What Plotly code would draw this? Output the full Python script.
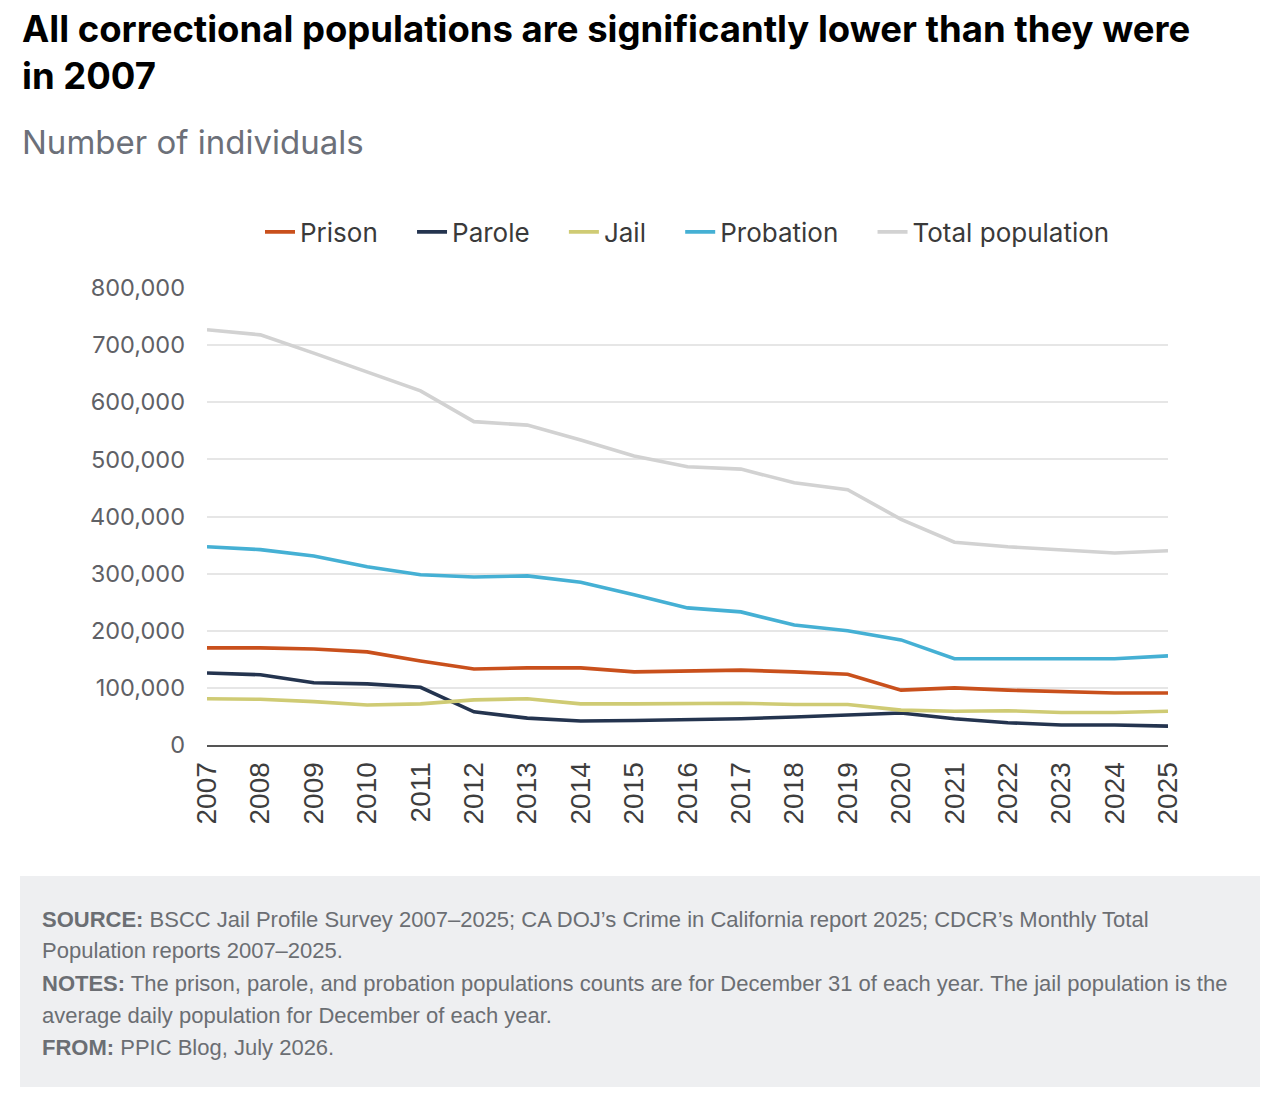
import plotly.graph_objects as go

years = list(range(2007, 2026))
prison = [170000, 170000, 168000, 163000, 147000, 133000, 135000, 135000, 128000, 130000,
          131000, 128000, 124000, 96000, 100000, 96000, 94000, 91000, 91000]
parole = [126000, 123000, 109000, 107000, 101000, 58000, 47000, 42000, 43000, 44000,
          46000, 49000, 53000, 56000, 46000, 39000, 35000, 35000, 33000]
jail = [81000, 80000, 76000, 70000, 72000, 79000, 81000, 72000, 72000, 73000,
        73000, 71000, 71000, 61000, 59000, 60000, 57000, 57000, 59000]
probation = [347000, 342000, 331000, 312000, 298000, 294000, 296000, 285000, 263000, 240000,
             233000, 210000, 200000, 184000, 151000, 151000, 152000, 151000, 156000]
total = [727000, 718000, 686000, 653000, 620000, 566000, 560000, 534000, 506000, 487000,
         483000, 459000, 447000, 395000, 355000, 347000, 341000, 336000, 340000]

series_names = ["Prison", "Parole", "Jail", "Probation", "Total population"]
series_values = [prison, parole, jail, probation, total]
series_colors = ["#c9501c", "#24344f", "#cfcb74", "#45b0d4", "#d2d2d2"]

y_ticks = [0, 100000, 200000, 300000, 400000, 500000, 600000, 700000, 800000]

W, H = 1280, 1094
L, R, T, B = 207, 1168, 288, 745


def px(xp):
    return (xp - L) / (R - L)


def py(yp):
    return (B - yp) / (B - T)


NB = "\u00a0"
fig = go.Figure()
for i, (name, vals, col) in enumerate(zip(series_names, series_values, series_colors)):
    label = name + (NB * 4 if i < len(series_names) - 1 else "")
    fig.add_trace(go.Scatter(x=years, y=vals, name=label, mode="lines",
                             line=dict(color=col, width=3.6)))

fig.update_layout(
    width=W, height=H,
    margin=dict(l=L, r=W - R, t=T, b=H - B, pad=0),
    paper_bgcolor="white", plot_bgcolor="white",
    font=dict(family="Inter, Lato, Arial, sans-serif", color="#444"),
    showlegend=True,
    legend=dict(orientation="h", x=0.5, xanchor="center", y=py(232), yanchor="middle",
                font=dict(family="Inter, sans-serif", size=26, color="#3a3a3a"),
                itemwidth=30, tracegroupgap=0, bgcolor="rgba(0,0,0,0)"),
    xaxis=dict(range=[2007, 2025], tickvals=years, ticktext=[str(y) for y in years],
               tickangle=-90, showgrid=False, zeroline=False, showline=True,
               linecolor="#555", linewidth=2, ticks="", ticklabelstandoff=4,
               tickfont=dict(family="Liberation Sans, Arial, sans-serif", size=28, color="#3d3d3d")),
    yaxis=dict(range=[0, 800000], tickvals=y_ticks, tickformat=",", showgrid=True,
               gridcolor="#e6e6e6", gridwidth=1.5, zeroline=False, showline=False, ticks="",
               ticklabelstandoff=21,
               tickfont=dict(family="Inter, sans-serif", size=23.5, color="#5f6166")),
)

# Footer box
fig.add_shape(type="rect", xref="paper", yref="paper",
              x0=px(20), x1=px(1260), y0=py(1087), y1=py(876),
              fillcolor="#eeeff1", line=dict(width=0), layer="below")

annotations = []
annotations.append(dict(
    text="<b>All correctional populations are significantly lower than they were<br>in 2007</b>",
    xref="paper", yref="paper", x=px(20), y=py(5), xanchor="left", yanchor="top",
    align="left", showarrow=False,
    font=dict(family="Inter, sans-serif", size=36.5, color="#000000")))
annotations.append(dict(
    text="Number of individuals", xref="paper", yref="paper", x=px(20), y=py(142),
    xanchor="left", yanchor="middle", align="left", showarrow=False,
    font=dict(family="Inter, sans-serif", size=33, color="#6c7079")))

footer_lines = [
    "<b>SOURCE:</b> BSCC Jail Profile Survey 2007–2025; CA DOJ’s Crime in California report 2025; CDCR’s Monthly Total",
    "Population reports 2007–2025.",
    "<b>NOTES:</b> The prison, parole, and probation populations counts are for December 31 of each year. The jail population is the",
    "average daily population for December of each year.",
    "<b>FROM:</b> PPIC Blog, July 2026.",
]
footer_y = [919, 950, 983, 1015, 1047]
for t, yy in zip(footer_lines, footer_y):
    annotations.append(dict(
        text=t, xref="paper", yref="paper", x=px(40), y=py(yy), xanchor="left", yanchor="middle",
        align="left", showarrow=False,
        font=dict(family="Liberation Sans, Arial, sans-serif", size=22, color="#6b6e73")))

fig.update_layout(annotations=annotations)

fig.write_html("out.html")
